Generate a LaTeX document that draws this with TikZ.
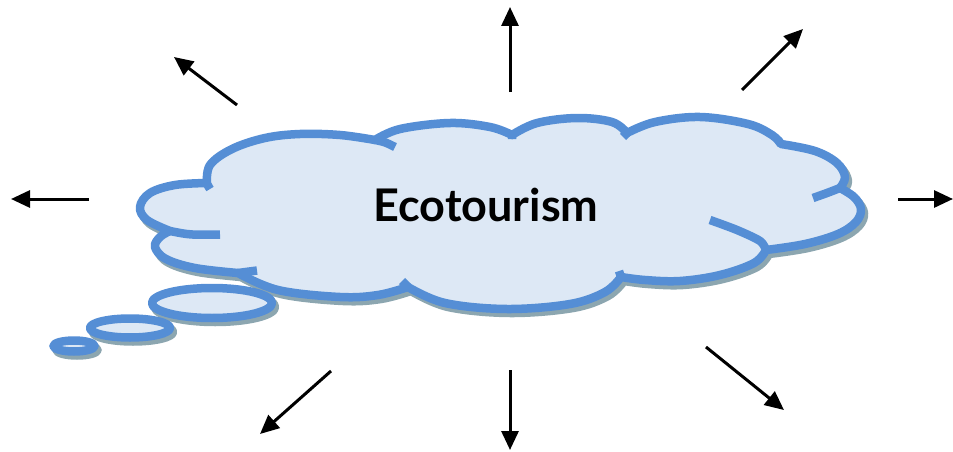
\documentclass[tikz,border=0pt]{standalone}
\usepackage{fontspec}
\setmainfont{Lato}
\usetikzlibrary{arrows.meta}
\definecolor{cloudline}{RGB}{85,142,213}
\definecolor{cloudfill}{RGB}{221,232,245}
\definecolor{shade}{RGB}{140,166,176}
\tikzset{
  cloudshape/.style={insert path={
    (207,184)
    -- plot[smooth, tension=0.6] coordinates {(207,184) (210,165) (232,149) (265,138) (300,134) (340,135) (375,140)}
    -- plot[smooth, tension=0.6] coordinates {(375,140) (400,129) (450,123) (490,127) (512,135)}
    -- plot[smooth, tension=0.6] coordinates {(512,135) (537,123) (577,118) (612,122) (627,133)}
    -- plot[smooth, tension=0.6] coordinates {(627,133) (655,122) (700,117) (748,124) (772,135) (781,144)}
    -- plot[smooth, tension=0.6] coordinates {(781,144) (815,151) (837,163) (845,177) (840,188)}
    -- plot[smooth, tension=0.6] coordinates {(840,188) (854,197) (861,209) (856,222) (838,234) (805,244) (766,250)}
    -- plot[smooth, tension=0.6] coordinates {(766,250) (754,263) (720,275) (680,281) (645,280) (621,277)}
    -- plot[smooth, tension=0.6] coordinates {(621,277) (605,292) (570,304) (507,309) (445,303) (408,287)}
    -- plot[smooth, tension=0.6] coordinates {(408,287) (378,295) (340,297) (278,290) (238,273)}
    -- plot[smooth, tension=0.6] coordinates {(238,273) (195,268) (166,259) (155,247) (160,237) (170,231)}
    -- plot[smooth, tension=0.6] coordinates {(170,231) (147,220) (140,207) (150,193) (175,185) (207,183)}
    -- cycle}},
  cloudstubs/.style={insert path={
    (170,231) .. controls (190,235) .. (220,234.5)
    (238,273) .. controls (248,271) .. (257,270.5)
    (408,287) -- (402,281)
    (621,277) -- (619,271)
    plot[smooth] coordinates {(766,250) (760,241) (737,230) (710,220)}
    plot[smooth] coordinates {(840,188) (827,193) (813,198)}
    (627,133) -- (623,137)
    (375,140) .. controls (385,142) .. (395,147)
    (207,184) -- (210,189)
    (512,135) -- (512,139)
    (781,144) -- (778,140)}},
  outline/.style={draw=cloudline, line width=8.5pt, line join=round},
  shadowline/.style={draw=shade, fill=shade, line width=8.5pt, line join=round},
  pointer/.style={draw=black, line width=3pt, -{Triangle[length=19pt, width=17pt]}}
}
\begin{document}
\begin{tikzpicture}[x=1pt, y=-1pt]
\useasboundingbox (0,0) rectangle (953,452);
% shadows
\path[shadowline, shift={(3,4)}, cloudshape];
\path[shadowline] (215,307) ellipse [x radius=60pt, y radius=15pt];
\path[shadowline] (133,332) ellipse [x radius=40pt, y radius=9.5pt];
\path[shadowline] (77,350) ellipse [x radius=20.5pt, y radius=5.5pt];
% cloud
\path[outline, fill=cloudfill, cloudshape];
\path[outline, cloudstubs];
% bubbles
\path[outline, fill=cloudfill] (212,303) ellipse [x radius=60pt, y radius=15pt];
\path[outline, fill=cloudfill] (130,328) ellipse [x radius=40pt, y radius=9.5pt];
\path[outline, fill=cloudfill] (74,346) ellipse [x radius=20.5pt, y radius=5.5pt];
% title
\node (title) at (486,205) {\fontsize{45}{50}\selectfont\bfseries Ecotourism};
% arrows
\coordinate (up0) at (510,92);   \coordinate (up1) at (510,7);
\coordinate (ul0) at (237,105);  \coordinate (ul1) at (174,57);
\coordinate (lf0) at (89,199);   \coordinate (lf1) at (11,199);
\coordinate (ur0) at (742,90);   \coordinate (ur1) at (803,29);
\coordinate (rt0) at (898,199);  \coordinate (rt1) at (953,199);
\coordinate (ll0) at (331,371);  \coordinate (ll1) at (260,434);
\coordinate (dn0) at (510,370);  \coordinate (dn1) at (510,450);
\coordinate (lr0) at (706,347);  \coordinate (lr1) at (784,410);
\draw[pointer] (up0) -- (up1);
\draw[pointer] (ul0) -- (ul1);
\draw[pointer] (lf0) -- (lf1);
\draw[pointer] (ur0) -- (ur1);
\draw[pointer] (rt0) -- (rt1);
\draw[pointer] (ll0) -- (ll1);
\draw[pointer] (dn0) -- (dn1);
\draw[pointer] (lr0) -- (lr1);
\end{tikzpicture}
\end{document}
